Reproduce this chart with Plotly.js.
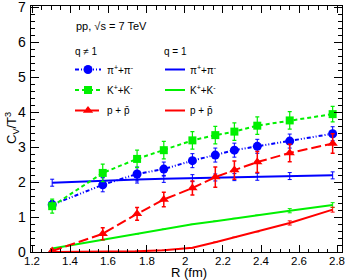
<!DOCTYPE html>
<html><head><meta charset="utf-8">
<script src="https://cdn.plot.ly/plotly-3.0.1.min.js"></script>
<style>html,body{margin:0;padding:0;background:#fff}#chart{width:351px;height:280px}</style>
</head><body><div id="chart"></div>
<script>
// Radius values (fm)
const R = [1.305, 1.57, 1.75, 1.89, 2.04, 2.16, 2.26, 2.38, 2.55, 2.775];
// q != 1 (Tsallis)
const piQ    = [1.35, 1.92, 2.23, 2.37, 2.61, 2.77, 2.91, 3.02, 3.17, 3.38];
const piQErr = [0.12, 0.2, 0.2, 0.2, 0.2, 0.2, 0.2, 0.2, 0.2, 0.2];
const kQ     = [1.31, 2.26, 2.66, 2.91, 3.19, 3.34, 3.44, 3.61, 3.76, 3.94];
const kQErr  = [0.2, 0.25, 0.25, 0.25, 0.25, 0.25, 0.25, 0.25, 0.25, 0.22];
const pQ     = [0.03, 0.52, 1.09, 1.50, 1.83, 2.14, 2.34, 2.57, 2.83, 3.10];
const pQErr  = [0.04, 0.17, 0.18, 0.21, 0.2, 0.29, 0.26, 0.3, 0.25, 0.28];
// q = 1 (Boltzmann-Gibbs)
const pi1    = [1.98, 2.04, 2.07, 2.09, 2.11, 2.13, 2.14, 2.15, 2.17, 2.19];
const pi1Err = [0.1, 0.1, 0.1, 0.1, 0.1, 0.1, 0.1, 0.1, 0.1, 0.1];
const k1     = [0.10, 0.35, 0.52, 0.65, 0.79, 0.88, 0.96, 1.05, 1.18, 1.34];
const k1Err  = [null, null, null, null, null, null, null, null, 0.06, 0.07];
const p1     = [0.00, 0.00, 0.02, 0.05, 0.12, 0.28, 0.42, 0.58, 0.83, 1.21];
const p1Err  = [null, null, null, null, null, null, null, null, 0.06, 0.07];

const xTicks = [1.2, 1.4, 1.6, 1.8, 2, 2.2, 2.4, 2.6, 2.8];
const yTicks = [0, 1, 2, 3, 4, 5, 6, 7];
const labels = ["\u03c0<sup>+</sup>+\u03c0<sup>-</sup>", "K<sup>+</sup>+K<sup>-</sup>", "p + p\u0304"];
const BLUE = "#0000ff", GREEN = "#00f000", RED = "#ff0000";
const XR = [1.194, 2.824], YR = [0, 7.03];

function errObj(arr, color, w) {
  return {type: "data", array: arr, visible: true, color: color, thickness: w, width: 2};
}

const traces = [
  {x: R, y: pi1, mode: "lines", line: {color: BLUE, width: 2}, error_y: errObj(pi1Err, BLUE, 1)},
  {x: R, y: k1, mode: "lines", line: {color: GREEN, width: 2}, error_y: errObj(k1Err, GREEN, 1)},
  {x: R, y: p1, mode: "lines", line: {color: RED, width: 2}, error_y: errObj(p1Err, RED, 1)},
  {x: R, y: piQ, mode: "lines+markers", line: {color: BLUE, width: 2, dash: "4px,2px,1px,2px,1px,2px"},
   marker: {symbol: "circle", size: 9, color: BLUE}, error_y: errObj(piQErr, BLUE, 1)},
  {x: R, y: kQ, mode: "lines+markers", line: {color: GREEN, width: 2, dash: "4px,3px"},
   marker: {symbol: "square", size: 8, color: GREEN}, error_y: errObj(kQErr, GREEN, 1.2)},
  {x: R, y: pQ, mode: "lines+markers", line: {color: RED, width: 2, dash: "10px,4px"},
   marker: {symbol: "triangle-up", size: 9, color: RED}, error_y: errObj(pQErr, RED, 1.5)}
];

// Legend keys drawn on an overlay axis in pixel units (x: 31..342, y: 252..6)
const keyRows = [69.5, 90, 110.5];
const keyStyles = [
  {c: BLUE, dash: "4px,2px,1px,2px,1px,2px", sym: "circle", s: 9},
  {c: GREEN, dash: "4px,3px", sym: "square", s: 8},
  {c: RED, dash: "10px,4px", sym: "triangle-up", s: 9}
];
keyStyles.forEach((k, i) => {
  traces.push({x: [75, 101], y: [keyRows[i], keyRows[i]], xaxis: "x2", yaxis: "y2", mode: "lines",
    line: {color: k.c, width: 2, dash: k.dash}, hoverinfo: "skip"});
  traces.push({x: [88], y: [keyRows[i]], xaxis: "x2", yaxis: "y2", mode: "markers",
    marker: {symbol: k.sym, size: k.s, color: k.c}, hoverinfo: "skip"});
  traces.push({x: [165, 185], y: [keyRows[i], keyRows[i]], xaxis: "x2", yaxis: "y2", mode: "lines",
    line: {color: k.c, width: 2}, hoverinfo: "skip"});
});

const F = "Liberation Sans, Arial, sans-serif";
const ann = [
  {x: 74, y: 26, text: "pp, \u221as = 7 TeV", font: {size: 11}},
  {x: 73, y: 51, text: "q \u2260 1", font: {size: 10}},
  {x: 162, y: 51, text: "q = 1", font: {size: 10}}
].map(a => Object.assign({xref: "x2", yref: "y2", xanchor: "left", yanchor: "middle", showarrow: false}, a));
labels.forEach((t, i) => {
  ann.push({xref: "x2", yref: "y2", x: 105, y: keyRows[i], text: t, xanchor: "left", yanchor: "middle", showarrow: false, font: {size: 10}});
  ann.push({xref: "x2", yref: "y2", x: 188, y: keyRows[i], text: t, xanchor: "left", yanchor: "middle", showarrow: false, font: {size: 10}});
});
// Tick labels, positioned as fractions of the axis ranges
const fx = v => (v - XR[0]) / (XR[1] - XR[0]);
const fy = v => (v - YR[0]) / (YR[1] - YR[0]);
yTicks.forEach(v => ann.push({xref: "paper", yref: "paper", x: (28 - 31) / 311, y: fy(v), text: String(v),
  xanchor: "right", yanchor: "middle", showarrow: false, font: {size: 14}}));
xTicks.forEach(v => ann.push({xref: "paper", yref: "paper", x: fx(v), y: -(253 - 252) / 246, text: String(v),
  xanchor: "center", yanchor: "top", showarrow: false, font: {size: 11.5}}));
// Axis titles (paper coords: plot spans x 31..342, y 252..6)
ann.push({xref: "paper", yref: "paper", x: (189 - 31) / 311, y: -(272 - 252) / 246, text: "R (fm)",
  xanchor: "center", yanchor: "middle", showarrow: false, font: {size: 13}});
ann.push({xref: "paper", yref: "paper", x: (12 - 31) / 311, y: (252 - 128) / 246, text: "C<sub>V</sub>/T<sup>3</sup>",
  textangle: -90, xanchor: "center", yanchor: "middle", showarrow: false, font: {size: 13}});

const layout = {
  width: 351, height: 280,
  margin: {l: 31, r: 9, t: 6, b: 28, pad: 0},
  paper_bgcolor: "#fff", plot_bgcolor: "#fff",
  showlegend: false,
  font: {family: F, color: "#000"},
  xaxis: {
    range: XR, tickmode: "array", tickvals: xTicks, showticklabels: false,
    ticks: "inside", ticklen: 7, tickwidth: 1, tickcolor: "#000",
    showline: true, linecolor: "#000", linewidth: 1, mirror: "allticks", showgrid: false, zeroline: false,
    minor: {dtick: 0.05, tick0: 1.2, ticks: "inside", ticklen: 3.5, tickcolor: "#000", showgrid: false},
    automargin: false
  },
  yaxis: {
    range: YR, tickmode: "array", tickvals: yTicks, showticklabels: false,
    ticks: "inside", ticklen: 8, tickwidth: 1, tickcolor: "#000",
    showline: true, linecolor: "#000", linewidth: 1, mirror: "allticks", showgrid: false, zeroline: false,
    minor: {dtick: 0.2, tick0: 0, ticks: "inside", ticklen: 4, tickcolor: "#000", showgrid: false},
    automargin: false
  },
  xaxis2: {overlaying: "x", range: [31, 342], visible: false, fixedrange: true},
  yaxis2: {overlaying: "y", range: [252, 6], visible: false, fixedrange: true},
  annotations: ann
};

Plotly.newPlot("chart", traces, layout, {staticPlot: true, displayModeBar: false});
</script></body></html>
